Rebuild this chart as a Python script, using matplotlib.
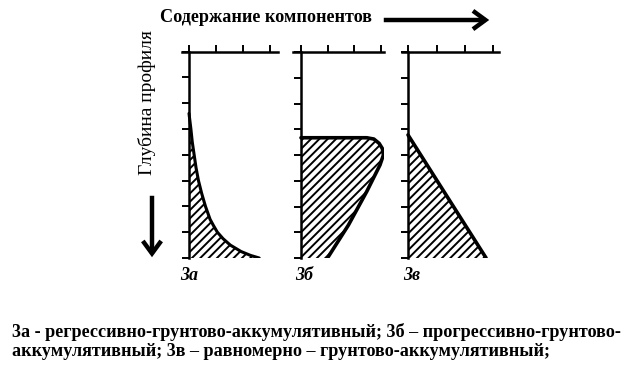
import matplotlib
matplotlib.use("Agg")
import matplotlib.pyplot as plt
from matplotlib.patches import FancyArrowPatch

# ---- data (depth in tick units, content in tick units) ----
depth_a = [2.4, 3.0, 3.5, 4.0, 4.5, 5.0, 5.5, 6.0, 6.5, 6.75, 7.0, 7.25, 7.5, 7.75, 7.9, 8.0]
content_a = [0.0, 0.07, 0.12, 0.19, 0.26, 0.35, 0.47, 0.61, 0.78, 0.91, 1.05, 1.26, 1.53, 1.93, 2.28, 2.6]

depth_b = [3.33, 3.33, 3.38, 3.55, 3.75, 4.0, 4.39, 5.42, 6.72, 8.0]
content_b = [0.0, 2.48, 2.75, 2.95, 3.07, 3.11, 2.98, 2.48, 1.79, 1.0]

depth_c = [3.22, 8.0]
content_c = [0.0, 2.74]

panel_labels = ["3а", "3б", "3в"]
depth_ticks = [0, 1, 2, 3, 4, 5, 6, 7, 8]
content_ticks = [0, 1, 2, 3]

title = "Содержание компонентов"
ylabel = "Глубина профиля"
caption1 = "3а - регрессивно-грунтово-аккумулятивный; 3б – прогрессивно-грунтово-"
caption2 = "аккумулятивный; 3в – равномерно – грунтово-аккумулятивный;"

W, H = 636, 368
plt.rcParams['hatch.linewidth'] = 1.4
plt.rcParams['hatch.color'] = 'black'
SERIF = ['Liberation Serif', 'DejaVu Serif']

fig = plt.figure(figsize=(W / 100, H / 100), dpi=100)

panels = [
    dict(x0=189, unit=27.0, xlim=(-0.27, 3.3), top=51.5, bottom=258),
    dict(x0=301, unit=26.5, xlim=(-0.3, 3.15), top=52, bottom=258),
    dict(x0=408, unit=28.5, xlim=(-0.22, 3.2), top=52, bottom=258),
]
shapes = [(content_a, depth_a, 'a'), (content_b, depth_b, 'b'), (content_c, depth_c, 'c')]
label_x = [189, 304, 412]

for p, (cx, dy, kind), lab, lx in zip(panels, shapes, panel_labels, label_x):
    left_px = p['x0'] + p['xlim'][0] * p['unit']
    right_px = p['x0'] + p['xlim'][1] * p['unit']
    ax = fig.add_axes([left_px / W, 1 - p['bottom'] / H,
                       (right_px - left_px) / W, (p['bottom'] - p['top']) / H])
    ax.set_xlim(*p['xlim'])
    ax.set_ylim(8, 0)
    ax.patch.set_alpha(0)
    for s in ['right', 'bottom']:
        ax.spines[s].set_visible(False)
    ax.spines['left'].set_position(('data', 0))
    ax.spines['left'].set_bounds(0, 8)
    for s in ['left', 'top']:
        ax.spines[s].set_linewidth(1.8)
    ax.xaxis.tick_top()
    ax.set_xticks(content_ticks)
    ax.set_yticks(depth_ticks)
    ax.tick_params(axis='both', direction='out', length=5, width=1.4,
                   labelleft=False, labeltop=False, labelbottom=False)
    if kind == 'a':
        ax.fill_betweenx(dy, 0, cx, facecolor='none', edgecolor='black',
                         hatch='////', linewidth=0)
        ax.plot(cx, dy, color='black', lw=2.2, solid_capstyle='round',
                solid_joinstyle='round')
    else:
        ax.fill(list(cx) + [0], list(dy) + [8], facecolor='none',
                edgecolor='black', hatch='////', linewidth=0)
        ax.plot(cx, dy, color='black', lw=2.6, solid_joinstyle='round',
                solid_capstyle='round')
    fig.text(lx / W, 1 - 276 / H, lab, ha='center', va='center',
             fontsize=13, fontweight='bold', fontstyle='italic', family=SERIF)

# title and arrow
fig.text(160 / W, 1 - 18 / H, title, ha='left', va='center', fontsize=13.1,
         fontweight='bold', family=SERIF)
fig.add_artist(FancyArrowPatch(
    (381 / W, 1 - 20 / H), (492 / W, 1 - 20 / H), transform=fig.transFigure,
    arrowstyle='->,head_length=0.75,head_width=0.55', mutation_scale=12,
    lw=3.2, color='black', capstyle='butt', joinstyle='miter'))

# vertical label and down arrow
fig.text(147 / W, 1 - 103 / H, ylabel, ha='center', va='center', rotation=90,
         fontsize=14, family=SERIF)
fig.add_artist(FancyArrowPatch(
    (152 / W, 1 - 193 / H), (152 / W, 1 - 260 / H), transform=fig.transFigure,
    arrowstyle='->,head_length=0.75,head_width=0.55', mutation_scale=12,
    lw=3.2, color='black', capstyle='butt', joinstyle='miter'))

# caption
fig.text(12 / W, 1 - 332 / H, caption1, ha='left', va='center', fontsize=13.1,
         fontweight='bold', family=SERIF)
fig.text(12 / W, 1 - 351 / H, caption2, ha='left', va='center', fontsize=13.1,
         fontweight='bold', family=SERIF)

fig.savefig('out.png', dpi=100)
